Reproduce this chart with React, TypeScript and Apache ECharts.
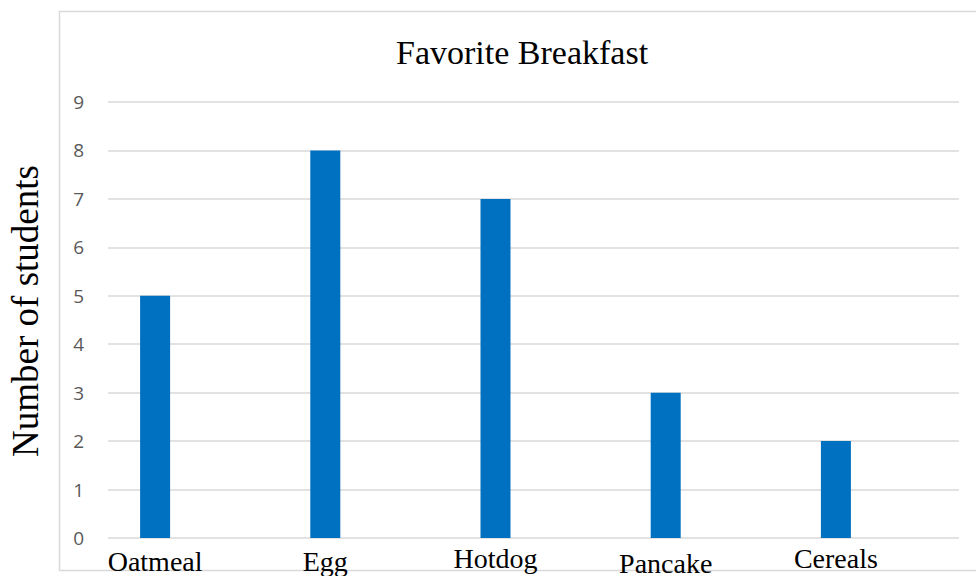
import React, { useEffect, useRef } from "react";
import * as echarts from "echarts";

const categories = ["Oatmeal", "Egg", "Hotdog", "Pancake", "Cereals"];
const values = [5, 8, 7, 3, 2];
const yTicks = [0, 1, 2, 3, 4, 5, 6, 7, 8, 9];
const titleText = "Favorite Breakfast";
const yAxisName = "Number of students";

const labelShift = [3, 3, 0, 5, 0];

export default function App() {
  const ref = useRef<HTMLDivElement>(null);
  useEffect(() => {
    if (!ref.current) return;
    const chart = echarts.init(ref.current, undefined, { renderer: "svg" });
    const serif = "'Liberation Serif', 'Times New Roman', serif";
    const yMin = yTicks[0];
    const yMax = yTicks[yTicks.length - 1];
    chart.setOption({
      animation: false,
      backgroundColor: "#ffffff",
      title: {
        text: titleText,
        left: 391,
        top: 30,
        textStyle: { fontFamily: serif, fontSize: 34, fontWeight: "normal", color: "#000000" },
      },
      graphic: [
        {
          type: "rect",
          left: 57,
          top: 9,
          shape: { x: 0, y: 0, width: 940, height: 559 },
          style: { fill: "none", stroke: "#d9d9d9", lineWidth: 1.5 },
          silent: true,
          z: -1,
        },
      ],
      grid: [
        { left: 108, right: 17, top: 102, bottom: 38, outerBoundsMode: "none", containLabel: false },
        { left: 70, right: 55, top: 102, bottom: 38, outerBoundsMode: "none", containLabel: false },
      ],
      xAxis: [
        {
          gridIndex: 0,
          type: "value",
          show: false,
        },
        {
          gridIndex: 1,
          type: "category",
          data: categories.map((c, i) => ({
            value: c,
            textStyle: { padding: [labelShift[i], 0, 0, 0] },
          })),
          axisLine: { show: false },
          axisTick: { show: false },
          axisLabel: {
            margin: 6,
            fontFamily: serif,
            fontSize: 28,
            color: "#000000",
            interval: 0,
          },
        },
      ],
      yAxis: [
        {
          gridIndex: 0,
          type: "value",
          min: yMin,
          max: yMax,
          interval: 1,
          axisLine: { show: false },
          axisTick: { show: false },
          splitLine: { lineStyle: { color: "#d9d9d9", width: 1.5 } },
          axisLabel: {
            margin: 24,
            fontFamily: "'Open Sans', 'Noto Sans', sans-serif",
            fontSize: 19,
            color: "#595959",
          },
          name: yAxisName,
          nameLocation: "middle",
          nameRotate: 90,
          nameGap: 64,
          nameTextStyle: {
            fontFamily: serif,
            fontSize: 37,
            color: "#000000",
            padding: [0, 0, 0, 18],
          },
        },
        {
          gridIndex: 1,
          type: "value",
          min: yMin,
          max: yMax,
          interval: 1,
          show: false,
          splitLine: { show: false },
        },
      ],
      series: [
        {
          type: "bar",
          xAxisIndex: 1,
          yAxisIndex: 1,
          data: values,
          barWidth: 30,
          itemStyle: { color: "#0070C0" },
        },
      ],
    });
    return () => chart.dispose();
  }, []);
  return (
    <div
      ref={ref}
      style={{ position: "fixed", left: 0, top: 0, width: 976, height: 576 }}
    />
  );
}
